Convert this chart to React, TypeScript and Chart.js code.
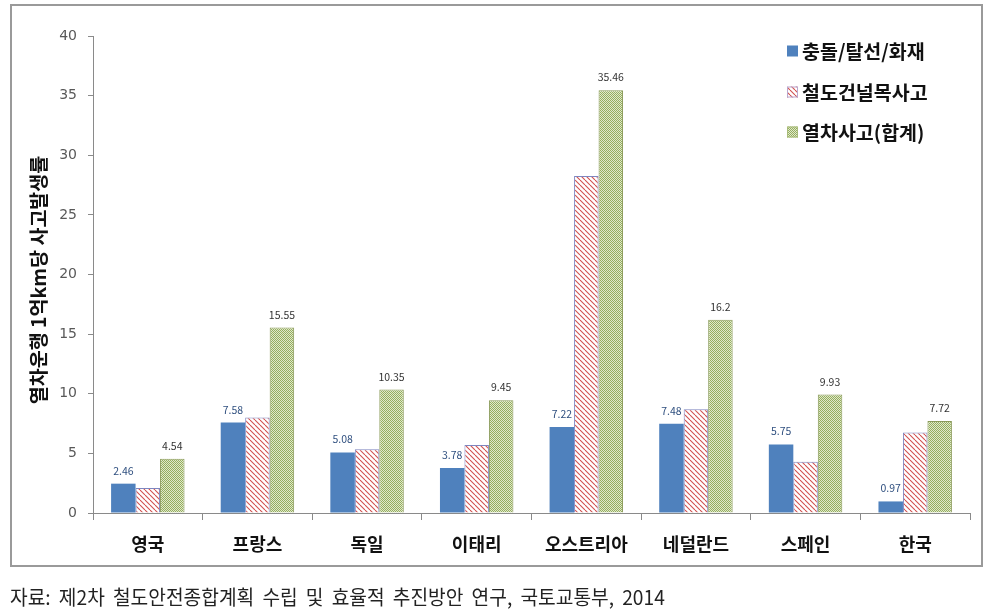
import React, { useEffect, useRef } from 'react';
import { Chart, registerables } from 'chart.js';

Chart.register(...registerables);

const categories = ['영국', '프랑스', '독일', '이태리', '오스트리아', '네덜란드', '스페인', '한국'];
const collisionValues = [2.46, 7.58, 5.08, 3.78, 7.22, 7.48, 5.75, 0.97];
const crossingValues = [2.1, 8.0, 5.35, 5.7, 28.25, 8.7, 4.3, 6.75];
const totalValues = [4.54, 15.55, 10.35, 9.45, 35.46, 16.2, 9.93, 7.72];
const collisionLabels = ['2.46', '7.58', '5.08', '3.78', '7.22', '7.48', '5.75', '0.97'];
const totalLabels = ['4.54', '15.55', '10.35', '9.45', '35.46', '16.2', '9.93', '7.72'];
const seriesNames = ['충돌/탈선/화재', '철도건널목사고', '열차사고(합계)'];
const yAxisTitle = '열차운행 1억km당 사고발생률';
const sourceText = '자료: 제2차 철도안전종합계획 수립 및 효율적 추진방안 연구, 국토교통부, 2014';
const yMin = 0;
const yMax = 40;
const yStep = 5;

const KR = '"Noto Sans CJK KR", "Noto Sans", sans-serif';

function makeHatch(): CanvasPattern | string {
  const c = document.createElement('canvas');
  c.width = 5;
  c.height = 5;
  const g = c.getContext('2d');
  if (!g) return '#fff';
  g.fillStyle = '#ffffff';
  g.fillRect(0, 0, 5, 5);
  g.strokeStyle = '#D2504E';
  g.lineWidth = 1.1;
  for (const off of [-5, 0, 5]) {
    g.beginPath();
    g.moveTo(off, 0);
    g.lineTo(off + 5, 5);
    g.stroke();
  }
  return g.createPattern(c, 'repeat') || '#fff';
}

function makeChecker(): CanvasPattern | string {
  const c = document.createElement('canvas');
  c.width = 2;
  c.height = 2;
  const g = c.getContext('2d');
  if (!g) return '#c3d69b';
  g.fillStyle = '#E0E8CC';
  g.fillRect(0, 0, 2, 2);
  g.fillStyle = '#95AE5E';
  g.fillRect(0, 0, 1, 1);
  g.fillRect(1, 1, 1, 1);
  return g.createPattern(c, 'repeat') || '#c3d69b';
}

export default function App() {
  const ref = useRef<HTMLCanvasElement | null>(null);

  useEffect(() => {
    const canvas = ref.current;
    if (!canvas) return;
    const hatch = makeHatch();
    const checker = makeChecker();
    const fills = ['#4F81BD', hatch, checker];
    const borders = ['#4F81BD', '#7E86C0', '#8A9A5A'];

    const overlay = {
      id: 'overlay',
      afterDatasetsDraw(chart: any) {
        const ctx = chart.ctx;
        ctx.save();
        ctx.font = `10.5px ${KR}`;
        ctx.textAlign = 'center';
        ctx.textBaseline = 'middle';
        const m0 = chart.getDatasetMeta(0);
        const m2 = chart.getDatasetMeta(2);
        m0.data.forEach((el: any, i: number) => {
          ctx.fillStyle = '#2F4F7F';
          ctx.fillText(collisionLabels[i], el.x, el.y - 13);
        });
        m2.data.forEach((el: any, i: number) => {
          ctx.fillStyle = '#333333';
          ctx.fillText(totalLabels[i], el.x, el.y - 13);
        });
        ctx.restore();
      },
      afterDraw(chart: any) {
        const ctx = chart.ctx;
        ctx.save();
        ctx.translate(39, 280);
        ctx.rotate(-Math.PI / 2);
        ctx.font = `bold 19.5px ${KR}`;
        ctx.fillStyle = '#111';
        ctx.textAlign = 'center';
        ctx.textBaseline = 'middle';
        ctx.fillText(yAxisTitle, 0, 0);
        ctx.restore();

        ctx.save();
        const rows = [51, 92, 132];
        seriesNames.forEach((name, i) => {
          const y = rows[i];
          ctx.fillStyle = fills[i] as any;
          ctx.fillRect(787, y - 5.5, 11, 11);
          if (i > 0) {
            ctx.strokeStyle = i === 1 ? '#B9A8D0' : '#A9BC7A';
            ctx.lineWidth = 1;
            ctx.strokeRect(787.5, y - 5, 10, 10);
          }
          ctx.font = `bold 19.5px ${KR}`;
          ctx.fillStyle = '#111';
          ctx.textAlign = 'left';
          ctx.textBaseline = 'middle';
          ctx.fillText(name, 802, y + 1);
        });
        ctx.restore();
      },
    };

    const chart = new Chart(canvas, {
      type: 'bar',
      data: {
        labels: categories,
        datasets: [
          { label: seriesNames[0], data: collisionValues, backgroundColor: fills[0] as any, borderColor: borders[0], borderWidth: 0 },
          { label: seriesNames[1], data: crossingValues, backgroundColor: fills[1] as any, borderColor: borders[1], borderWidth: 1 },
          { label: seriesNames[2], data: totalValues, backgroundColor: fills[2] as any, borderColor: borders[2], borderWidth: 1 },
        ],
      },
      options: {
        animation: false,
        responsive: false,
        devicePixelRatio: 1,
        layout: { padding: { left: 53, right: 25, top: 36, bottom: 61 } },
        datasets: { bar: { categoryPercentage: 0.67, barPercentage: 1.0 } },
        plugins: {
          legend: { display: false },
          tooltip: { enabled: false },
          title: { display: false },
        },
        scales: {
          x: {
            afterFit(scale: any) {
              scale.height = 40;
            },
            grid: { display: true, drawOnChartArea: false, drawTicks: true, tickLength: 7, color: '#8a8a8a', offset: true },
            border: { display: true, color: '#8a8a8a', width: 1 },
            ticks: { color: '#111', font: { family: KR, size: 18, weight: 'bold' }, padding: 13 },
          },
          y: {
            min: yMin,
            max: yMax,
            afterFit(scale: any) {
              scale.width = 40;
            },
            grid: { display: true, drawOnChartArea: false, drawTicks: true, tickLength: 5, color: '#8a8a8a' },
            border: { display: true, color: '#8a8a8a', width: 1 },
            ticks: { stepSize: yStep, color: '#595959', font: { family: '"DejaVu Sans", sans-serif', size: 14 }, padding: 11 },
          },
        },
      },
      plugins: [overlay],
    } as any);
    return () => chart.destroy();
  }, []);

  return (
    <div style={{ position: 'absolute', left: 0, top: 0, width: 995, height: 614, background: '#fff', overflow: 'hidden' }}>
      <div
        style={{
          position: 'absolute',
          left: 10,
          top: 4,
          width: 973,
          height: 563,
          boxSizing: 'border-box',
          border: '2px solid #9a9a9a',
        }}
      />
      <canvas ref={ref} width={995} height={614} style={{ position: 'absolute', left: 0, top: 0, width: 995, height: 614 }} />
      <div
        style={{
          position: 'absolute',
          left: 10,
          top: 584,
          fontFamily: KR,
          fontSize: 20,
          lineHeight: '26px',
          wordSpacing: '4px',
          color: '#222',
          whiteSpace: 'nowrap',
          transform: 'scaleX(0.96)',
          transformOrigin: 'left center',
        }}
      >
        {sourceText}
      </div>
    </div>
  );
}
